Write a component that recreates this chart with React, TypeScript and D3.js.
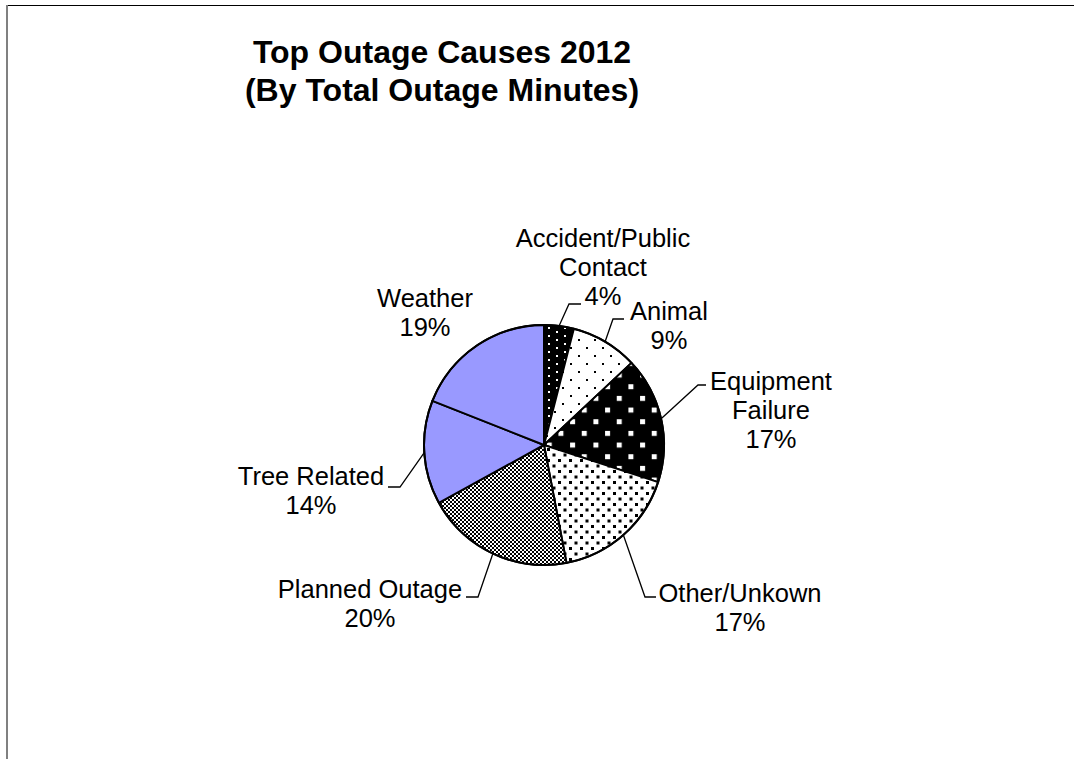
import React from "react";
import * as d3 from "d3";

// Outage causes, clockwise from 12 o'clock
const categories = [
  "Accident/Public Contact",
  "Animal",
  "Equipment Failure",
  "Other/Unkown",
  "Planned Outage",
  "Tree Related",
  "Weather",
];
// Share of total outage minutes (%)
const shares = [4, 9, 17, 17, 20, 14, 19];
// How each category name wraps in its data label
const labelLines = [
  ["Accident/Public", "Contact"],
  ["Animal"],
  ["Equipment", "Failure"],
  ["Other/Unkown"],
  ["Planned Outage"],
  ["Tree Related"],
  ["Weather"],
];
const titleLines = ["Top Outage Causes 2012", "(By Total Outage Minutes)"];

// Layout
const W = 1074;
const H = 759;
const CX = 544;
const CY = 445;
const R = 120;
const FONT = "Arial, 'Liberation Sans', Helvetica, sans-serif";
const LINE_H = 29;

// Label text anchors (center x, first baseline) and leader elbows/ends
const labelLayout = [
  { x: 603, y: 247, leader: [[569, 304], [581, 304]] },
  { x: 669, y: 320, leader: [[613, 319], [624, 319]] },
  { x: 771, y: 390, leader: [[698, 385], [706, 385]] },
  { x: 740, y: 602, leader: [[645, 597], [656, 597]] },
  { x: 370, y: 598, leader: [[478, 597], [466, 597]] },
  { x: 311, y: 485, leader: [[400, 487], [388, 487]] },
  { x: 425, y: 307, leader: null },
];

const fills = [
  "url(#pAccident)",
  "url(#pAnimal)",
  "url(#pEquip)",
  "url(#pOther)",
  "url(#pPlanned)",
  "#9999FF",
  "#9999FF",
];

export default function App() {
  const pie = d3
    .pie<number>()
    .sort(null)
    .value((d) => d)
    .startAngle(0)
    .endAngle(2 * Math.PI);
  const arcs = pie(shares);
  const arc = d3.arc<d3.PieArcDatum<number>>().innerRadius(0).outerRadius(R);
  const edge = d3.arc<d3.PieArcDatum<number>>().innerRadius(R).outerRadius(R);

  return (
    <div style={{ position: "absolute", left: 0, top: 0 }}>
      <svg width={W} height={H} style={{ display: "block", background: "#fff" }}>
        <defs>
          <pattern id="pAccident" patternUnits="userSpaceOnUse" width={16} height={8} x={4} y={2}>
            <rect width={16} height={8} fill="#000" />
            <rect x={0} y={0} width={2} height={2} fill="#fff" />
            <rect x={8} y={4} width={2} height={2} fill="#fff" />
          </pattern>
          <pattern id="pAnimal" patternUnits="userSpaceOnUse" width={16} height={16} x={2} y={6}>
            <rect width={16} height={16} fill="#fff" />
            <rect x={0} y={0} width={2} height={2} fill="#000" />
            <rect x={8} y={8} width={2} height={2} fill="#000" />
          </pattern>
          <pattern id="pEquip" patternUnits="userSpaceOnUse" width={23.33} height={23.33} x={621} y={382.5}>
            <rect width={23.33} height={23.33} fill="#000" />
            <rect x={0} y={0} width={5} height={5} fill="#fff" />
            <rect x={11.67} y={11.67} width={5} height={5} fill="#fff" />
          </pattern>
          <pattern id="pOther" patternUnits="userSpaceOnUse" width={11} height={11} x={3} y={3}>
            <rect width={11} height={11} fill="#fff" />
            <rect x={0} y={0} width={3} height={3} fill="#000" />
            <rect x={5.5} y={5.5} width={3} height={3} fill="#000" />
          </pattern>
          <pattern id="pPlanned" patternUnits="userSpaceOnUse" width={4} height={4}>
            <rect width={4} height={4} fill="#000" />
            <rect x={0} y={0} width={2} height={2} fill="#fff" />
            <rect x={2} y={2} width={2} height={2} fill="#fff" />
          </pattern>
        </defs>

        {/* chart area frame */}
        <line x1={7} y1={5.5} x2={W} y2={5.5} stroke="#000" strokeWidth={1} />
        <line x1={7} y1={5} x2={7} y2={H} stroke="#808080" strokeWidth={2} />

        {/* title */}
        <text textAnchor="middle" fontFamily={FONT} fontWeight="bold" fontSize={32} fill="#000">
          {titleLines.map((t, i) => (
            <tspan key={i} x={442} y={63 + i * 38}>
              {t}
            </tspan>
          ))}
        </text>

        {/* slices */}
        <g transform={`translate(${CX},${CY})`}>
          {arcs.map((a, i) => (
            <path
              key={categories[i]}
              d={arc(a) || ""}
              fill={fills[i]}
              stroke="#000"
              strokeWidth={2}
              strokeLinejoin="round"
            />
          ))}
          <circle r={R} fill="none" stroke="#000" strokeWidth={2} />
        </g>

        {/* leader lines */}
        {arcs.map((a, i) => {
          const lay = labelLayout[i];
          if (!lay.leader) return null;
          const [ex, ey] = edge.centroid(a);
          const pts: [number, number][] = [[CX + ex, CY + ey], ...(lay.leader as [number, number][])];
          const line = d3.line();
          return (
            <path key={"l" + i} d={line(pts) || ""} fill="none" stroke="#000" strokeWidth={1.3} />
          );
        })}

        {/* data labels */}
        {arcs.map((a, i) => {
          const lay = labelLayout[i];
          const lines = [...labelLines[i], `${shares[i]}%`];
          return (
            <text key={"t" + i} textAnchor="middle" fontFamily={FONT} fontSize={25.5} fill="#000">
              {lines.map((t, j) => (
                <tspan key={j} x={lay.x} y={lay.y + j * LINE_H}>
                  {t}
                </tspan>
              ))}
            </text>
          );
        })}
      </svg>
    </div>
  );
}
